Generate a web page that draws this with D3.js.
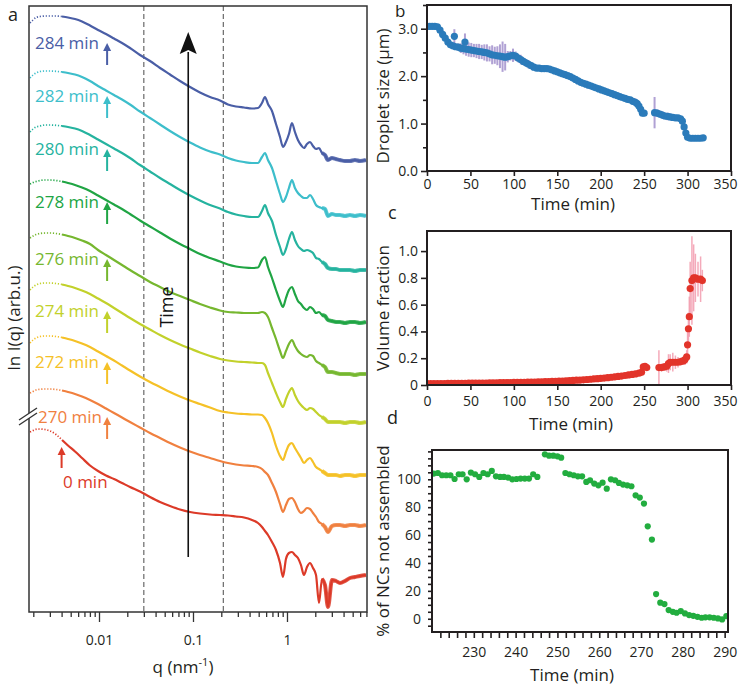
<!DOCTYPE html>
<html><head><meta charset="utf-8">
<script src="https://cdn.jsdelivr.net/npm/d3@7"></script>
<style>body{margin:0;background:#fff}svg{display:block}text{font-family:"Open Sans","Noto Sans",sans-serif}</style>
</head><body><svg width="738" height="688"></svg>
<script>
// ---------------- DATA ----------------
// Panel a: SAXS curves, q in nm^-1, ln I in arbitrary units (stacked)
const qValues = [0.001845,0.001986,0.002138,0.002357,0.002666,0.003013,0.003491,0.004040,0.004677,0.005557,0.006594,0.008022,0.009758,0.01187,0.01444,0.01757,0.02137,0.02731,0.03489,0.04458,0.05693,0.07274,0.09292,0.1187,0.1517,0.1937,0.2355,0.2865,0.3488,0.4244,0.4914,0.5420,0.5832,0.6276,0.6924,0.7638,0.8430,0.9063,0.9750,1.049,1.129,1.215,1.308,1.408,1.516,1.632,1.757,1.891,2.036,2.190,2.357,2.537,2.731,3.012,3.320,3.662,4.139,4.677,5.286,5.974,6.918];
const ln284 = [-7,-4,-1.5,-0.5,0,0,0,-0.5,-1.5,-3,-5.5,-9.5,-14,-18,-22.5,-27,-32,-39,-45,-52,-58.5,-65,-71,-76.5,-81,-84.5,-88.5,-90.5,-91.5,-92.5,-92,-87,-81,-88,-95,-108,-121,-131,-126,-118,-107,-116,-124,-129,-132,-128,-126,-130,-133,-132,-137,-139,-144,-142,-143,-144,-145,-145,-144,-145,-144];
const ln282 = [-7,-4,-2,-0.5,0,0,-0.3,-1,-2,-3.5,-6,-10,-15,-19.5,-24,-28.5,-33.5,-40.5,-47,-53.5,-60,-66,-71.5,-76.5,-80.5,-83.5,-87,-89.5,-91,-92,-92,-86,-82,-89,-97,-110,-123,-131,-126,-117,-109,-117,-122,-125,-127,-127,-124,-128,-134,-136,-137,-138,-145,-143,-144,-144,-145,-144,-145,-144,-145];
const ln280 = [-7,-4,-2,-1,0,0,-0.3,-1,-2,-3.5,-6,-10,-14.5,-19,-23.5,-28,-33,-40,-46.5,-53,-59,-65,-70.5,-75.5,-80,-83.5,-87,-89.5,-91,-92,-92,-86,-80,-88,-96,-110,-122,-130,-124,-114,-107,-115,-121,-124,-126,-125,-126,-128,-133,-134,-137,-139,-143,-144,-144,-145,-145,-145,-146,-145,-145];
const ln278 = [-4,-2.5,-1.5,-0.5,0,0,-0.5,-1.5,-3,-5,-7.5,-11,-15.5,-20,-24.5,-29,-34,-40.5,-46.5,-52.5,-58.5,-64,-69,-74,-78,-81.5,-84.5,-86.5,-87.5,-88,-87.5,-80,-77,-87,-98,-110,-121,-127,-118,-110,-107,-114,-121,-124,-128,-130,-127,-129,-133,-132,-135,-136,-140,-141,-142,-142,-143,-142,-142,-143,-142];
const ln276 = [-5,-3,-1.5,-0.5,0,0,-0.5,-1.5,-3,-5,-7.5,-11,-17,-22,-27,-32,-37,-43,-49,-54,-59,-63,-67,-71,-74.5,-77.5,-79,-79.5,-80,-80,-80,-79,-80,-84,-95,-106,-118,-125,-118,-111,-107,-113,-118,-121,-123,-124,-122,-123,-128,-130,-132,-134,-139,-139,-140,-141,-141,-141,-142,-141,-141];
const ln274 = [-7,-4,-2,-0.5,0,0,-0.5,-1.5,-3,-5,-7.5,-11,-15.5,-20,-25,-30,-35,-41,-46.5,-52,-57,-61.5,-65.5,-69.5,-73,-76,-77.5,-78.5,-79,-79.5,-80,-80,-82,-90,-100,-110,-119,-124,-116,-109,-105,-112,-118,-122,-125,-127,-125,-126,-129,-132,-134,-136,-139,-139,-139,-139,-140,-139,-139,-140,-139];
const ln272 = [-7,-4,-2,-0.5,0,0,-0.5,-1.5,-3,-5,-7.5,-11,-15.5,-20,-24.5,-29.5,-34.5,-40.5,-46,-51,-56,-60.5,-64.5,-68,-71.5,-75,-76.5,-77.5,-78,-78.5,-78.5,-79,-82,-87,-97,-110,-120,-124,-116,-109,-107,-112,-117,-122,-127,-124,-122,-126,-131,-133,-135,-137,-139,-139,-139,-140,-139,-139,-140,-139,-139];
const ln270 = [-4,-2.5,-1,-0.3,0,0,-0.5,-1.5,-3,-5,-7.5,-11,-15,-19.5,-24,-28.5,-33,-38.5,-44,-49,-54,-58.5,-62.5,-66,-69,-72,-74,-75.5,-76.5,-77,-78,-80,-83,-86,-94,-103,-115,-123,-116,-110,-109,-113,-120,-124,-122,-119,-120,-124,-128,-133,-135,-138,-143,-137,-136,-136,-137,-136,-136,-137,-136];
const ln0 = [-3,-1.5,-0.3,0,-0.5,-2,-5.5,-11,-16.5,-22.5,-29,-36.5,-42,-46.5,-50,-54,-58,-62.5,-68,-73,-77,-80.5,-83,-84.5,-85.5,-86,-86.5,-87.5,-88.5,-91,-94,-98,-102,-106,-113,-121,-134,-148,-130,-124,-123,-126,-129,-136,-146,-138,-134,-139,-146,-174,-150,-156,-178,-151,-152,-154,-152,-149,-148,-147,-146];
const curveNames = ["284 min","282 min","280 min","278 min","276 min","274 min","272 min","270 min","0 min"];
const curveOffsets = [596,541,487,432,379,329,276,223,183];
const featureQ = [0.0122,0.0122,0.0122,0.0122,0.0122,0.0122,0.0122,0.0122,0.0040];
const guideQ = [0.03,0.21];
const qTickLabels = ["0.01","0.1","1"];

// Panel b: droplet size
const timeB = [0,3,6,9,12,15,18,21,24,27,30,31.5,33,36,39,42,43.7,45,48,51,54,57,60,63,66,69,72,75,78,81,84,87,90,93,96,99,102,105,108,111,114,117,120,123,126,129,132,135,138,141,144,147,150,153,156,159,162,165,168,171,174,177,180,183,186,189,192,195,198,201,204,207,210,213,216,219,222,225,228,231,234,237,240,242,244,246,248,250,262,265,268,271,274,277,280,283,286,289,292,294,296,298,300,303,306,309,312,315,318];
const sizeB = [3.05,3.05,3.05,3.05,3.04,2.97,2.88,2.80,2.72,2.66,2.64,2.84,2.62,2.61,2.59,2.58,2.72,2.57,2.56,2.55,2.54,2.53,2.52,2.51,2.50,2.49,2.47,2.45,2.44,2.43,2.42,2.41,2.40,2.41,2.43,2.44,2.42,2.38,2.35,2.31,2.28,2.25,2.22,2.19,2.17,2.17,2.16,2.16,2.16,2.15,2.13,2.11,2.09,2.07,2.05,2.03,2.01,1.99,1.96,1.93,1.90,1.87,1.85,1.83,1.81,1.79,1.77,1.75,1.73,1.71,1.69,1.67,1.65,1.63,1.61,1.59,1.57,1.55,1.53,1.51,1.50,1.47,1.45,1.42,1.37,1.30,1.22,1.22,1.23,1.22,1.20,1.18,1.16,1.15,1.14,1.13,1.12,1.12,1.10,1.05,0.93,0.80,0.71,0.69,0.69,0.69,0.69,0.69,0.70];
const errB = [0,0,0,0,0,0,0,0,0,0,0.03,0.15,0.05,0.08,0.1,0.12,0.18,0.14,0.15,0.15,0.14,0.15,0.16,0.15,0.17,0.18,0.16,0.2,0.18,0.2,0.25,0.32,0.28,0.12,0.1,0.14,0.1,0.09,0.1,0.08,0.08,0.09,0.07,0.06,0.04,0.03,0.03,0.02,0.02,0.02,0.02,0.02,0.02,0.02,0.02,0.02,0.02,0.02,0.02,0.02,0.02,0.02,0.02,0.02,0.02,0.02,0.02,0.02,0.02,0.02,0.02,0.02,0.02,0.02,0.02,0.02,0.03,0.03,0.04,0.05,0.06,0.07,0.08,0.08,0.07,0.05,0.03,0.03,0.33,0.08,0.07,0.08,0.07,0.08,0.07,0.06,0.05,0.05,0.04,0.03,0.02,0.02,0.02,0.02,0.02,0.02,0.02,0.02,0.02];
const timeTicks = [0,50,100,150,200,250,300,350];
const sizeTicks = [0,1,2,3];

// Panel c: volume fraction
const timeC = [0,4,8,12,16,20,24,28,32,36,40,44,48,52,56,60,64,68,72,76,80,84,88,92,96,100,104,108,112,116,120,124,128,132,136,140,144,148,152,156,160,164,168,172,176,180,184,188,192,196,200,204,208,212,216,220,224,228,232,236,240,244,247,249,251,253,267,270,273,276,278,280,283,286,289,292,295,297,299,300,301,302,303,305,307,309,312,315,317];
const fracC = [0.010,0.010,0.010,0.011,0.011,0.011,0.012,0.012,0.012,0.013,0.013,0.013,0.014,0.014,0.014,0.015,0.015,0.015,0.016,0.016,0.016,0.017,0.017,0.018,0.018,0.019,0.019,0.020,0.020,0.021,0.022,0.022,0.023,0.024,0.025,0.026,0.027,0.028,0.029,0.030,0.031,0.033,0.034,0.036,0.037,0.039,0.041,0.043,0.045,0.047,0.049,0.052,0.055,0.058,0.061,0.064,0.067,0.071,0.075,0.079,0.083,0.088,0.095,0.135,0.14,0.13,0.13,0.13,0.135,0.14,0.16,0.17,0.17,0.17,0.17,0.175,0.18,0.19,0.21,0.30,0.42,0.51,0.72,0.78,0.80,0.80,0.79,0.79,0.78];
const errC = [0,0,0,0,0,0,0,0,0,0,0,0,0,0,0,0,0,0,0,0,0,0,0,0,0,0,0,0,0,0,0,0,0,0,0,0,0,0,0,0,0,0,0,0,0,0,0,0,0,0,0,0,0,0,0,0,0,0,0,0,0.008,0.01,0.015,0.02,0.01,0.01,0.13,0.03,0.03,0.04,0.07,0.06,0.07,0.05,0.04,0.03,0.03,0.04,0.05,0.1,0.12,0.15,0.2,0.33,0.25,0.18,0.13,0.17,0.08];
const fracTicks = [0,0.2,0.4,0.6,0.8,1.0];

// Panel d: % of NCs not assembled
const timeD = [220.4,221.4,222.4,223.4,224.4,225.4,226.4,227.3,228.3,229.3,230.3,231.3,232.3,233.3,234.3,235.3,236.3,237.2,238.2,239.2,240.2,241.2,242.2,243.2,244.2,245.2,247.0,248.0,249.0,250.0,250.9,251.9,252.9,253.9,254.9,255.9,256.9,257.8,258.8,259.8,260.8,261.8,262.8,263.8,264.7,265.7,266.7,267.7,268.7,269.7,270.7,271.6,272.6,273.6,274.6,275.6,276.6,277.6,278.5,279.5,280.5,281.5,282.5,283.5,284.5,285.4,286.4,287.4,288.4,289.4,290.4];
const pctD = [104.1,104.5,102.9,102.9,102.9,100.2,103.6,103.6,100.0,104.8,103.6,101.7,104.5,103.6,106.0,102.1,101.7,101.7,101.2,100.0,100.2,100.5,100.5,100.5,103.6,101.7,117.9,116.9,116.9,116.5,115.5,104.5,103.6,102.9,102.1,102.1,98.1,99.3,96.9,95.7,97.6,93.3,100.0,99.3,97.4,96.2,95.7,95.0,88.5,86.9,82.6,66.3,56.8,17.7,11.5,10.5,6.2,5.0,4.3,5.5,3.8,2.6,2.1,1.4,0.7,1.0,1.0,0.7,0.2,-0.5,1.9];
const timeTicksD = [230,240,250,260,270,280,290];
const pctTicks = [0,20,40,60,80,100];

// ---------------- STYLE / LAYOUT ----------------
const ink = "#231f20";
const curveColors = ["#4a5ea6","#3dbecb","#25b39f","#20a544","#76b72f","#c2d12b","#f5c127","#f0803f","#dc3a28"];
const labelX = [35,35,35,35,35,35,35,38,63];
const labelY = [49,102,155,208,265,317,368,423,488];

const svg = d3.select("svg");
const defs = svg.append("defs");
function clip(id, r){ defs.append("clipPath").attr("id",id).append("rect").attr("x",r.l).attr("y",r.t).attr("width",r.r-r.l).attr("height",r.b-r.t); }

// ================= PANEL A =================
const A = {l:29,r:367,t:6,b:612};
clip("clipA",A);
const xA = d3.scaleLog().domain([0.0018,7.1]).range([A.l,A.r]);
const yA = d3.scaleLinear().domain([0,606]).range([A.b,A.t]);
const gA = svg.append("g");

guideQ.forEach(g => gA.append("line").attr("x1",xA(g)).attr("x2",xA(g)).attr("y1",A.t).attr("y2",A.b)
  .attr("stroke","#4a4a4a").attr("stroke-width",1).attr("stroke-dasharray","5,3"));

const lineA = d3.line().x(d=>xA(d[0])).y(d=>yA(d[1])).curve(d3.curveMonotoneX);
const profiles = [ln284,ln282,ln280,ln278,ln276,ln274,ln272,ln270,ln0];
const cg = gA.append("g").attr("clip-path","url(#clipA)");
profiles.forEach((p,k) => {
  const pts = qValues.map((q,i)=>[q, curveOffsets[k]+p[i]]);
  cg.append("path").attr("d",lineA(pts.slice(0,8))).attr("fill","none").attr("stroke",curveColors[k])
    .attr("stroke-width",1.7).attr("stroke-dasharray","1.2,1.8");
  cg.append("path").attr("d",lineA(pts.slice(7))).attr("fill","none").attr("stroke",curveColors[k])
    .attr("stroke-width",2.2).attr("stroke-linejoin","round");
  cg.append("path").attr("d",lineA(pts.slice(50))).attr("fill","none").attr("stroke",curveColors[k])
    .attr("stroke-width",4).attr("stroke-opacity",0.85);
});

// Time arrow
const tx = xA(0.089);
gA.append("line").attr("x1",tx).attr("x2",tx).attr("y1",yA(55)).attr("y2",yA(560)).attr("stroke","#111").attr("stroke-width",1.6);
gA.append("path").attr("d",`M${tx},${yA(580)} L${tx+8.5},${yA(558)} L${tx},${yA(562)} L${tx-8.5},${yA(558)} Z`).attr("fill","#111");
gA.append("text").attr("transform",`translate(${tx-15},307) rotate(-90)`).attr("text-anchor","middle")
  .attr("font-size",18).attr("fill","#111").text("Time");

// labels & arrows
curveNames.forEach((n,k)=>{
  gA.append("text").attr("x",labelX[k]).attr("y",labelY[k]).attr("font-size",17).attr("fill",curveColors[k]).text(n);
  const ax = xA(featureQ[k]);
  const tip = k<8 ? labelY[k]-6 : 447, bot = k<8 ? labelY[k]+16 : 468;
  gA.append("line").attr("x1",ax).attr("x2",ax).attr("y1",bot).attr("y2",tip+6).attr("stroke",curveColors[k]).attr("stroke-width",2);
  gA.append("path").attr("d",`M${ax},${tip} L${ax+4},${tip+8} L${ax-4},${tip+8} Z`).attr("fill",curveColors[k]);
});

// frame
gA.append("rect").attr("x",A.l).attr("y",A.t).attr("width",A.r-A.l).attr("height",A.b-A.t)
  .attr("fill","none").attr("stroke","#333").attr("stroke-width",1.5);

// x axis
const isMajor = d => Math.abs(Math.log10(d)-Math.round(Math.log10(d)))<1e-6;
const majorsA = [0.01,0.1,1];
const axA = gA.append("g").attr("transform",`translate(0,${A.b})`)
  .call(d3.axisBottom(xA).tickValues(xA.ticks()).tickSize(5)
    .tickFormat(d => isMajor(d) ? qTickLabels[majorsA.findIndex(m=>Math.abs(m-d)<1e-9)] : ""));
axA.select(".domain").remove();
axA.selectAll(".tick line").attr("stroke","#333").attr("stroke-width",1.3).attr("y2",d=>isMajor(d)?10:5);
axA.selectAll(".tick text").attr("y",23).attr("font-size",14).attr("fill",ink).attr("font-family",'"Open Sans",sans-serif');
gA.append("text").attr("x",183).attr("y",673).attr("text-anchor","middle").attr("font-size",17).attr("fill",ink)
  .html('q (nm<tspan dy="-7" font-size="11">-1</tspan><tspan dy="7">)</tspan>');

// y label, panel letter, break mark
gA.append("text").attr("transform","translate(20,318) rotate(-90)").attr("text-anchor","middle")
  .attr("font-size",17).attr("fill",ink).text("ln I(q) (arb.u.)");
gA.append("text").attr("x",8).attr("y",21).attr("font-size",18).attr("fill",ink).text("a");
gA.append("path").attr("d","M19,420 L37,408 L37,413 L19,425 Z").attr("fill","#fff");
gA.append("line").attr("x1",19).attr("y1",420).attr("x2",37).attr("y2",408).attr("stroke","#333").attr("stroke-width",1.3);
gA.append("line").attr("x1",19).attr("y1",425).attr("x2",37).attr("y2",413).attr("stroke","#333").attr("stroke-width",1.3);

// ================= generic helpers =================
function frame(g,R){ g.append("rect").attr("x",R.l).attr("y",R.t).attr("width",R.r-R.l).attr("height",R.b-R.t)
  .attr("fill","none").attr("stroke",ink).attr("stroke-width",2); }
function styleAxis(ax){ ax.select(".domain").remove();
  ax.selectAll(".tick line").attr("stroke",ink).attr("stroke-width",1.6);
  ax.selectAll(".tick text").attr("font-size",14).attr("fill",ink).attr("font-family",'"Open Sans",sans-serif');
  return ax; }
function pullLast(ax){ ax.selectAll(".tick text").filter(d=>d===350).attr("dx",-6); }

// ================= PANEL B =================
const B = {l:427,r:731,t:5,b:171};
clip("clipB",B);
const xB = d3.scaleLinear().domain([0,350]).range([B.l,B.r]);
const yB = d3.scaleLinear().domain([0,3.5]).range([B.b,B.t]);
const gB = svg.append("g");
const pB = gB.append("g").attr("clip-path","url(#clipB)");
pB.selectAll("line.err").data(timeB.map((t,i)=>[t,sizeB[i],errB[i]]).filter(d=>d[2]>0)).join("line")
  .attr("x1",d=>xB(d[0])).attr("x2",d=>xB(d[0])).attr("y1",d=>yB(d[1]-d[2])).attr("y2",d=>yB(d[1]+d[2]))
  .attr("stroke","#9682c6").attr("stroke-width",2).attr("opacity",0.75);
pB.selectAll("circle").data(timeB.map((t,i)=>[t,sizeB[i]])).join("circle")
  .attr("cx",d=>xB(d[0])).attr("cy",d=>yB(d[1])).attr("r",3.6).attr("fill","#2b7bba");
pullLast(styleAxis(gB.append("g").attr("transform",`translate(0,${B.b})`).call(d3.axisBottom(xB).tickValues(timeTicks).tickSize(5).tickPadding(3))));
styleAxis(gB.append("g").attr("transform",`translate(${B.l},0)`).call(d3.axisLeft(yB).tickValues(sizeTicks).tickFormat(d3.format(".1f")).tickSize(6).tickPadding(3)));
styleAxis(gB.append("g").attr("transform",`translate(${B.l},0)`).call(d3.axisLeft(yB).tickValues([0.5,1.5,2.5,3.5]).tickFormat("").tickSize(4)));
frame(gB,B);
gB.append("text").attr("x",573).attr("y",210).attr("text-anchor","middle").attr("font-size",17).attr("fill",ink).text("Time (min)");
gB.append("text").attr("transform",`translate(389,96) rotate(-90)`).attr("text-anchor","middle").attr("font-size",17).attr("fill",ink).text("Droplet size (µm)");
gB.append("text").attr("x",395).attr("y",17).attr("font-size",17).attr("fill",ink).text("b");

// ================= PANEL C =================
const C = {l:427,r:731,t:231,b:385};
clip("clipC",C);
const xC = d3.scaleLinear().domain([0,350]).range([C.l,C.r]);
const yC = d3.scaleLinear().domain([0,1.15]).range([C.b,C.t]);
const gC = svg.append("g");
const pC = gC.append("g").attr("clip-path","url(#clipC)");
pC.selectAll("line.err").data(timeC.map((t,i)=>[t,fracC[i],errC[i]]).filter(d=>d[2]>0)).join("line")
  .attr("x1",d=>xC(d[0])).attr("x2",d=>xC(d[0])).attr("y1",d=>yC(d[1]-d[2])).attr("y2",d=>yC(d[1]+d[2]))
  .attr("stroke","#f39cae").attr("stroke-width",1.5).attr("opacity",0.85);
pC.selectAll("circle").data(timeC.map((t,i)=>[t,fracC[i]])).join("circle")
  .attr("cx",d=>xC(d[0])).attr("cy",d=>yC(d[1])).attr("r",3.6).attr("fill","#e2342a");
pullLast(styleAxis(gC.append("g").attr("transform",`translate(0,${C.b})`).call(d3.axisBottom(xC).tickValues(timeTicks).tickSize(5).tickPadding(6))));
styleAxis(gC.append("g").attr("transform",`translate(${C.l},0)`).call(d3.axisLeft(yC).tickValues(fracTicks).tickFormat(d=>d===0?"0":d3.format(".1f")(d)).tickSize(6).tickPadding(3)));
frame(gC,C);
gC.append("text").attr("x",571).attr("y",430).attr("text-anchor","middle").attr("font-size",17).attr("fill",ink).text("Time (min)");
gC.append("text").attr("transform",`translate(389,${(C.t+C.b)/2}) rotate(-90)`).attr("text-anchor","middle").attr("font-size",17).attr("fill",ink).text("Volume fraction");
gC.append("text").attr("x",388).attr("y",219).attr("font-size",18).attr("fill",ink).text("c");

// ================= PANEL D =================
const D = {l:432,r:728,t:450,b:632};
clip("clipD",D);
const xD = d3.scaleLinear().domain([220,290.8]).range([D.l,D.r]);
const yD = d3.scaleLinear().domain([-9.5,121]).range([D.b,D.t]);
const gD = svg.append("g");
gD.append("g").attr("clip-path","url(#clipD)").selectAll("circle").data(timeD.map((t,i)=>[t,pctD[i]])).join("circle")
  .attr("cx",d=>xD(d[0])).attr("cy",d=>yD(d[1])).attr("r",3.1).attr("fill","#22ad3f");
styleAxis(gD.append("g").attr("transform",`translate(0,${D.b})`).call(d3.axisBottom(xD).tickValues(d3.range(222,291,2)).tickFormat(d=>timeTicksD.includes(d)?d:"").tickSize(6).tickPadding(9)));
styleAxis(gD.append("g").attr("transform",`translate(${D.l},0)`).call(d3.axisLeft(yD).tickValues(d3.range(-5,121,5)).tickFormat(d=>pctTicks.includes(d)?d:"").tickSize(4).tickPadding(7)));
frame(gD,D);
gD.append("text").attr("x",572).attr("y",681).attr("text-anchor","middle").attr("font-size",17).attr("fill",ink).text("Time (min)");
gD.append("text").attr("transform",`translate(389,${(D.t+D.b)/2}) rotate(-90)`).attr("text-anchor","middle").attr("font-size",17).attr("fill",ink).text("% of NCs not assembled");
gD.append("text").attr("x",387).attr("y",424).attr("font-size",18).attr("fill",ink).text("d");
</script></body></html>
